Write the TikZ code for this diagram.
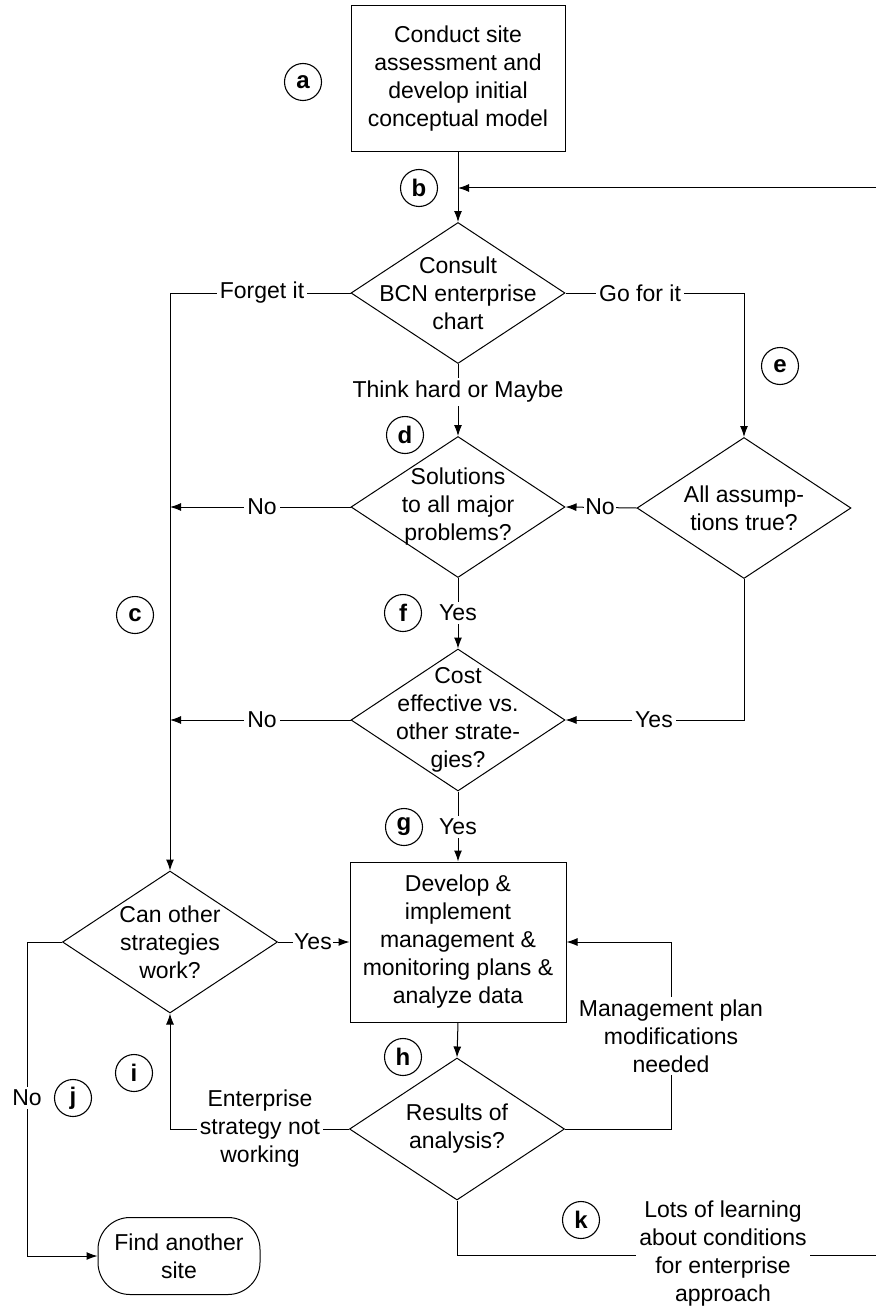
\documentclass[tikz,border=0pt]{standalone}
\usepackage{fontspec}
\setmainfont{Liberation Sans}
\usetikzlibrary{shapes.geometric,arrows.meta}
\begin{document}
\begin{tikzpicture}[x=1pt,y=-1pt,
  txt/.style={font=\fontsize{23}{28}\selectfont, align=center, inner sep=2pt},
  lbl/.style={txt, fill=white, inner sep=3pt},
  dia/.style={diamond, draw, line width=1pt, inner sep=0pt, minimum width=214pt, minimum height=141pt},
  boxn/.style={rectangle, draw, line width=1pt, txt},
  circ/.style={circle, draw, line width=1.1pt, minimum size=37pt, inner sep=0pt, font=\fontsize{24}{24}\selectfont\bfseries},
  conn/.style={draw, line width=1pt},
  arr/.style={conn, -{Latex[length=11pt,width=8pt]}}]
\useasboundingbox (0,0) rectangle (876,1308);

% process boxes
\node[boxn, minimum width=214pt, minimum height=146pt] (boxa) at (458,79) {Conduct site\\assessment and\\develop initial\\conceptual model};
\node[boxn, minimum width=216pt, minimum height=160pt] (dv) at (458,942) {Develop \&\\implement\\management \&\\monitoring plans \&\\analyze data};
\node[boxn, rounded corners=32pt, minimum width=162pt, minimum height=77pt] (find) at (179,1256) {Find another\\site};

% decisions
\node[dia] (c1) at (458,293) {};
\node[txt] (c1t) at (c1.center) {Consult\\BCN enterprise\\chart};
\node[dia] (d1) at (458,507) {};
\node[txt] (d1t) at (d1.center) {Solutions\\to all major\\problems?};
\node[dia] (e1) at (744,508) {};
\node[txt] (e1t) at (e1.center) {All assump-\\tions true?};
\node[dia, minimum height=142pt] (g1) at (458,720) {};
\node[txt] (g1t) at (g1.center) {Cost\\effective vs.\\other strate-\\gies?};
\node[dia, minimum width=215pt, minimum height=142pt] (co) at (170,942) {};
\node[txt] (cot) at (co.center) {Can other\\strategies\\work?};
\node[dia, minimum width=215pt, minimum height=142pt] (r1) at (457,1129) {};
\node[txt] (r1t) at (r1.center) {Results of\\analysis?};

% free ends at the right edge
\coordinate (rin) at (876,188);
\coordinate (rout) at (876,1255);

% connectors
\draw[arr] (boxa.south) -- (c1.north);
\draw[arr] (rin) -- (boxa.south |- rin);
\draw[arr] (c1.west) -- (co.north |- c1.west) -- (co.north);
\draw[arr] (c1.east) -- (e1.north |- c1.east) -- (e1.north);
\draw[arr] (c1.south) -- (d1.north);
\draw[arr] (e1.west) -- (d1.east);
\draw[arr] (d1.west) -- (co.north |- d1.west);
\draw[arr] (d1.south) -- (g1.north);
\draw[arr] (e1.south) -- (e1.south |- g1.east) -- (g1.east);
\draw[arr] (g1.west) -- (co.north |- g1.west);
\draw[arr] (g1.south) -- (dv.north);
\draw[arr] (co.east) -- (dv.west);
\draw[arr] (dv.south) -- (r1.north);
\draw[arr] (r1.east) -- (671,1129) -- (671,942) -- (dv.east);
\draw[arr] (r1.west) -- (co.south |- r1.west) -- (co.south);
\draw[arr] (co.west) -- (27,942) -- (27,1256) -- (find.west);
\draw[conn] (r1.south) -- (r1.south |- rout) -- (rout);

% connector labels
\node[lbl] (lforget) at (262,293) {Forget it};
\node[lbl] (lgo) at (640,293) {Go for it};
\node[lbl] (lthink) at (458,392) {Think hard or Maybe};
\node[lbl] (lno1) at (262,507) {No};
\node[lbl, inner sep=1pt] (lno2) at (600,507) {No};
\node[lbl] (lyes1) at (458,613) {Yes};
\node[lbl] (lyes2) at (654,720) {Yes};
\node[lbl] (lno3) at (262,720) {No};
\node[lbl] (lyes3) at (458,827) {Yes};
\node[lbl, inner sep=1pt] (lyes4) at (313,942) {Yes};
\node[lbl] (lmod) at (671,1036) {Management plan\\modifications\\needed};
\node[lbl] (lent) at (260,1129) {Enterprise\\strategy not\\working};
\node[lbl] (lno4) at (27,1098) {No};
\node[lbl] (llots) at (723,1254) {Lots of learning\\about conditions\\for enterprise\\approach};

% step markers
\node[circ] (ma) at (303,82) {a};
\node[circ] (mb) at (419,188) {b};
\node[circ] (mc) at (135,615) {c};
\node[circ] (md) at (405,435) {d};
\node[circ] (me) at (780,366) {e};
\node[circ] (mf) at (403,613) {f};
\node[circ] (mg) at (404,827) {g};
\node[circ] (mh) at (403,1057) {h};
\node[circ] (mi) at (134,1073) {i};
\node[circ] (mj) at (73,1098) {j};
\node[circ] (mk) at (581,1220) {k};
\end{tikzpicture}
\end{document}
